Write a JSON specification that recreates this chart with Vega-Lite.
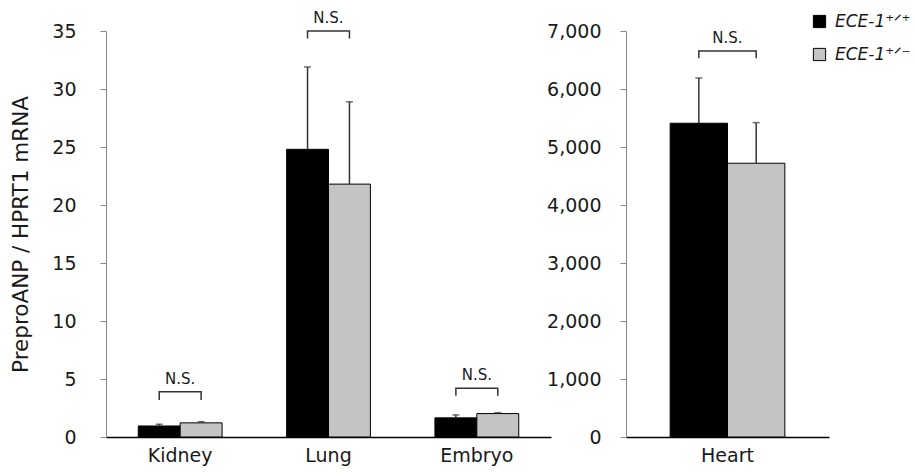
{
  "$schema": "https://vega.github.io/schema/vega-lite/v6.json",
  "padding": {"left": 10, "top": 11, "right": 5, "bottom": 5},
  "background": "white",
  "config": {
    "font": "DejaVu Sans",
    "view": {"stroke": null},
    "axis": {"labelFont": "DejaVu Sans", "labelFontSize": 19, "labelColor": "#1a1a1a", "titleFont": "DejaVu Sans", "titleFontWeight": "normal", "titleColor": "#1a1a1a", "grid": false}
  },
  "datasets": {
    "bars": [
      {"panel": "L", "cat": "Kidney", "geno": "+/+", "value": 0.95, "upper": 1.1},
      {"panel": "L", "cat": "Kidney", "geno": "+/-", "value": 1.22, "upper": 1.32},
      {"panel": "L", "cat": "Lung", "geno": "+/+", "value": 24.8, "upper": 31.9},
      {"panel": "L", "cat": "Lung", "geno": "+/-", "value": 21.8, "upper": 28.9},
      {"panel": "L", "cat": "Embryo", "geno": "+/+", "value": 1.65, "upper": 1.9},
      {"panel": "L", "cat": "Embryo", "geno": "+/-", "value": 2.02, "upper": 2.1},
      {"panel": "R", "cat": "Heart", "geno": "+/+", "value": 5410, "upper": 6190},
      {"panel": "R", "cat": "Heart", "geno": "+/-", "value": 4720, "upper": 5420}
    ],
    "brackets": [
      {"panel": "L", "cat": "Kidney", "geno": "+/+", "y": 3.2, "ord": 1},
      {"panel": "L", "cat": "Kidney", "geno": "+/+", "y": 3.9, "ord": 2},
      {"panel": "L", "cat": "Kidney", "geno": "+/-", "y": 3.9, "ord": 3},
      {"panel": "L", "cat": "Kidney", "geno": "+/-", "y": 3.2, "ord": 4},
      {"panel": "L", "cat": "Lung", "geno": "+/+", "y": 34.35, "ord": 1},
      {"panel": "L", "cat": "Lung", "geno": "+/+", "y": 35, "ord": 2},
      {"panel": "L", "cat": "Lung", "geno": "+/-", "y": 35, "ord": 3},
      {"panel": "L", "cat": "Lung", "geno": "+/-", "y": 34.35, "ord": 4},
      {"panel": "L", "cat": "Embryo", "geno": "+/+", "y": 3.55, "ord": 1},
      {"panel": "L", "cat": "Embryo", "geno": "+/+", "y": 4.2, "ord": 2},
      {"panel": "L", "cat": "Embryo", "geno": "+/-", "y": 4.2, "ord": 3},
      {"panel": "L", "cat": "Embryo", "geno": "+/-", "y": 3.55, "ord": 4},
      {"panel": "R", "cat": "Heart", "geno": "+/+", "y": 6530, "ord": 1},
      {"panel": "R", "cat": "Heart", "geno": "+/+", "y": 6655, "ord": 2},
      {"panel": "R", "cat": "Heart", "geno": "+/-", "y": 6655, "ord": 3},
      {"panel": "R", "cat": "Heart", "geno": "+/-", "y": 6530, "ord": 4}
    ]
  },
  "spacing": 75,
  "bounds": "flush",
  "resolve": {"scale": {"xOffset": "independent", "fill": "shared"}},
  "hconcat": [
    {
      "width": 445,
      "height": 406,
      "layer": [
        {
          "data": {"name": "bars"},
          "transform": [{"filter": "datum.panel == 'L'"}],
          "mark": {"type": "bar", "stroke": "black", "strokeWidth": 1},
          "encoding": {
            "x": {"field": "cat", "type": "nominal", "sort": ["Kidney", "Lung", "Embryo"], "scale": {"paddingInner": 0.435, "paddingOuter": 0.2175}, "axis": {"title": null, "labelAngle": 0, "ticks": false, "labelPadding": 9, "domainColor": "#000000", "domainWidth": 1.5}},
            "xOffset": {"field": "geno", "type": "nominal", "sort": ["+/+", "+/-"], "scale": {"paddingInner": 0, "paddingOuter": 0}},
            "y": {"field": "value", "type": "quantitative", "scale": {"domain": [0, 35], "nice": false}, "axis": {"title": "PreproANP / HPRT1 mRNA", "titleFontSize": 21.5, "titlePadding": 19, "values": [0, 5, 10, 15, 20, 25, 30, 35], "tickSize": 6, "tickColor": "#888888", "domainColor": "#888888", "labelPadding": 24}},
            "fill": {"field": "geno", "type": "nominal", "sort": ["+/+", "+/-"], "scale": {"domain": ["+/+", "+/-"], "range": ["#000000", "#c4c4c4"]},
              "legend": {"title": null, "orient": "none", "legendX": 705, "legendY": -18, "symbolType": "square", "symbolSize": 150, "symbolStrokeColor": "#000000", "symbolStrokeWidth": 1, "labelFontSize": 17, "labelFontStyle": "italic", "labelFont": "DejaVu Sans", "labelColor": "#1a1a1a", "rowPadding": 15, "labelOffset": 7,
                "labelExpr": "'ECE-1' + (datum.label == '+/+' ? '⁺ᐟ⁺' : '⁺ᐟ⁻')"}}
          }
        },
        {
          "data": {"name": "bars"},
          "transform": [{"filter": "datum.panel == 'L'"}],
          "mark": {"type": "rule", "color": "#333333", "strokeWidth": 1.5},
          "encoding": {
            "x": {"field": "cat", "type": "nominal", "sort": ["Kidney", "Lung", "Embryo"]},
            "xOffset": {"field": "geno", "type": "nominal", "sort": ["+/+", "+/-"]},
            "y": {"field": "value", "type": "quantitative"},
            "y2": {"field": "upper"}
          }
        },
        {
          "data": {"name": "bars"},
          "transform": [{"filter": "datum.panel == 'L'"}],
          "mark": {"type": "tick", "color": "#333333", "thickness": 1.5, "size": 7},
          "encoding": {
            "x": {"field": "cat", "type": "nominal", "sort": ["Kidney", "Lung", "Embryo"]},
            "xOffset": {"field": "geno", "type": "nominal", "sort": ["+/+", "+/-"]},
            "y": {"field": "upper", "type": "quantitative"}
          }
        },
        {
          "data": {"name": "brackets"},
          "transform": [{"filter": "datum.panel == 'L'"}],
          "mark": {"type": "line", "color": "#333333", "strokeWidth": 1.5},
          "encoding": {
            "x": {"field": "cat", "type": "nominal", "sort": ["Kidney", "Lung", "Embryo"]},
            "xOffset": {"field": "geno", "type": "nominal", "sort": ["+/+", "+/-"]},
            "y": {"field": "y", "type": "quantitative"},
            "detail": {"field": "cat"},
            "order": {"field": "ord", "type": "quantitative"}
          }
        },
        {
          "data": {"name": "brackets"},
          "transform": [{"filter": "datum.panel == 'L' && datum.ord == 2"}],
          "mark": {"type": "text", "text": "N.S.", "fontSize": 15, "baseline": "bottom", "dy": -5, "color": "#1a1a1a"},
          "encoding": {
            "x": {"field": "cat", "type": "nominal", "sort": ["Kidney", "Lung", "Embryo"]},
            "y": {"field": "y", "type": "quantitative"}
          }
        }
      ]
    },
    {
      "width": 203,
      "height": 406,
      "layer": [
        {
          "data": {"name": "bars"},
          "transform": [{"filter": "datum.panel == 'R'"}],
          "mark": {"type": "bar", "stroke": "black", "strokeWidth": 1},
          "encoding": {
            "x": {"field": "cat", "type": "nominal", "scale": {"paddingInner": 0.435, "paddingOuter": 0.2175}, "axis": {"title": null, "labelAngle": 0, "ticks": false, "labelPadding": 9, "domainColor": "#000000", "domainWidth": 1.5}},
            "xOffset": {"field": "geno", "type": "nominal", "sort": ["+/+", "+/-"], "scale": {"paddingInner": 0, "paddingOuter": 0}},
            "y": {"field": "value", "type": "quantitative", "scale": {"domain": [0, 7000], "nice": false}, "axis": {"title": null, "format": ",.0f", "values": [0, 1000, 2000, 3000, 4000, 5000, 6000, 7000], "tickSize": 6, "tickColor": "#888888", "domainColor": "#888888", "labelPadding": 19}},
            "fill": {"field": "geno", "type": "nominal", "sort": ["+/+", "+/-"]}
          }
        },
        {
          "data": {"name": "bars"},
          "transform": [{"filter": "datum.panel == 'R'"}],
          "mark": {"type": "rule", "color": "#333333", "strokeWidth": 1.5},
          "encoding": {
            "x": {"field": "cat", "type": "nominal"},
            "xOffset": {"field": "geno", "type": "nominal", "sort": ["+/+", "+/-"]},
            "y": {"field": "value", "type": "quantitative"},
            "y2": {"field": "upper"}
          }
        },
        {
          "data": {"name": "bars"},
          "transform": [{"filter": "datum.panel == 'R'"}],
          "mark": {"type": "tick", "color": "#333333", "thickness": 1.5, "size": 7},
          "encoding": {
            "x": {"field": "cat", "type": "nominal"},
            "xOffset": {"field": "geno", "type": "nominal", "sort": ["+/+", "+/-"]},
            "y": {"field": "upper", "type": "quantitative"}
          }
        },
        {
          "data": {"name": "brackets"},
          "transform": [{"filter": "datum.panel == 'R'"}],
          "mark": {"type": "line", "color": "#333333", "strokeWidth": 1.5},
          "encoding": {
            "x": {"field": "cat", "type": "nominal"},
            "xOffset": {"field": "geno", "type": "nominal", "sort": ["+/+", "+/-"]},
            "y": {"field": "y", "type": "quantitative"},
            "detail": {"field": "cat"},
            "order": {"field": "ord", "type": "quantitative"}
          }
        },
        {
          "data": {"name": "brackets"},
          "transform": [{"filter": "datum.panel == 'R' && datum.ord == 2"}],
          "mark": {"type": "text", "text": "N.S.", "fontSize": 15, "baseline": "bottom", "dy": -5, "color": "#1a1a1a"},
          "encoding": {
            "x": {"field": "cat", "type": "nominal"},
            "y": {"field": "y", "type": "quantitative"}
          }
        }
      ]
    }
  ]
}
